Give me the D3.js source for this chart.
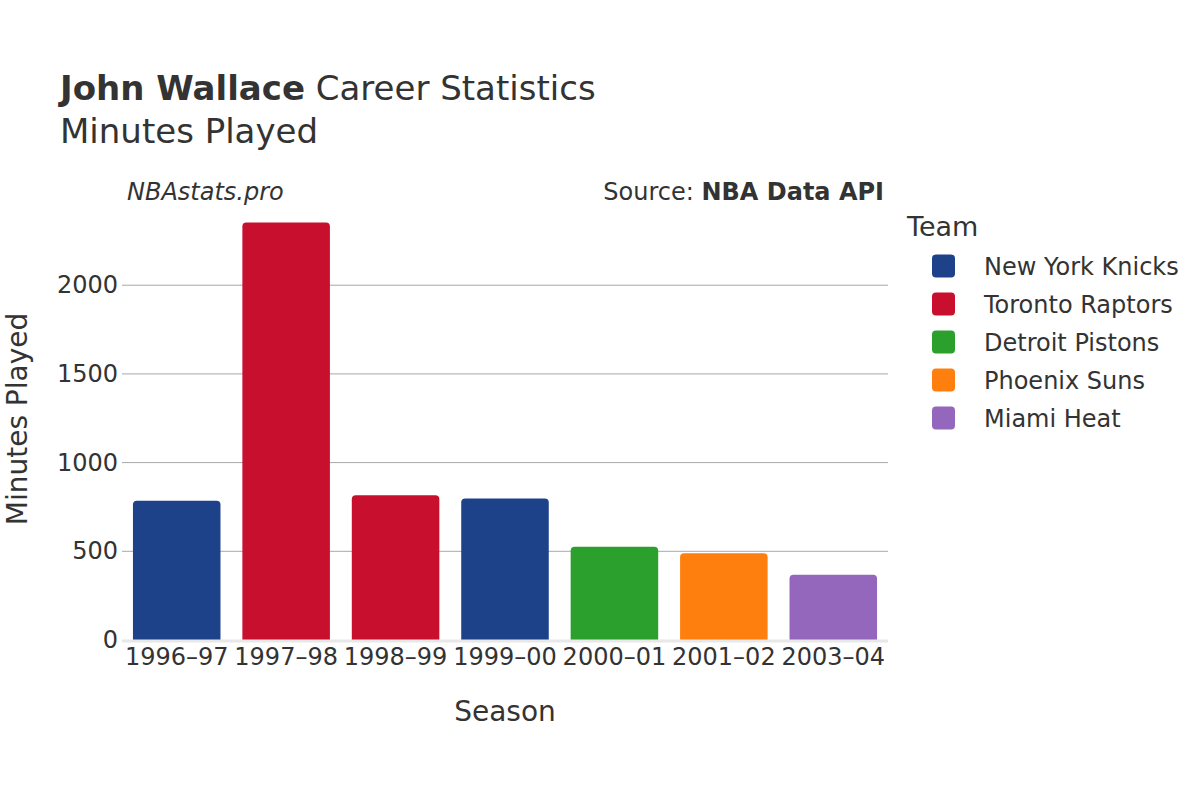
<!DOCTYPE html>
<html>
<head>
<meta charset="utf-8">
<script src="https://cdn.jsdelivr.net/npm/d3@7"></script>
<style>
  html, body { margin: 0; padding: 0; background: #fff; }
  svg { display: block; font-family: "DejaVu Sans", sans-serif; }
</style>
</head>
<body>
<svg id="chart" width="1200" height="800"></svg>
<script>
const seasons = ["1996–97", "1997–98", "1998–99", "1999–00", "2000–01", "2001–02", "2003–04"];
const minutes = [785, 2354, 816, 797, 525, 489, 368];
const seasonTeams = ["New York Knicks", "Toronto Raptors", "Toronto Raptors", "New York Knicks", "Detroit Pistons", "Phoenix Suns", "Miami Heat"];
const teams = ["New York Knicks", "Toronto Raptors", "Detroit Pistons", "Phoenix Suns", "Miami Heat"];
const teamColors = ["#1D428A", "#C8102E", "#2CA02C", "#FF7F0E", "#9467BD"];
const yTicks = [0, 500, 1000, 1500, 2000];

(function () {
const svg = d3.select("#chart");
const textColor = "#333333";
const pLeft = 122, pRight = 888, pTop = 210, pBottom = 640;

const x = d3.scaleBand().domain(seasons).range([pLeft, pRight]).paddingInner(0.2).paddingOuter(0.1);
const y = d3.scaleLinear().domain([0, 2424]).range([pBottom, pTop]);
const color = d3.scaleOrdinal().domain(teams).range(teamColors);

// Gridlines
svg.append("g").selectAll("line").data(yTicks.filter(d => d > 0)).join("line")
  .attr("x1", pLeft).attr("x2", pRight)
  .attr("y1", d => y(d)).attr("y2", d => y(d))
  .attr("stroke", "#a8a8a8").attr("stroke-width", 1);

// Y axis labels
const yAxis = d3.axisLeft(y).tickValues(yTicks).tickSize(0).tickPadding(4).tickFormat(d3.format("d"));
const gy = svg.append("g").attr("transform", `translate(${pLeft},0)`).call(yAxis);
gy.select(".domain").remove();
gy.selectAll("text").attr("font-size", 24).attr("fill", textColor).attr("font-family", "DejaVu Sans");

// Bars with rounded top corners
const r = 4;
function barPath(x0, y0, w, h) {
  const rr = Math.min(r, h, w / 2);
  return `M${x0},${y0 + h} V${y0 + rr} Q${x0},${y0} ${x0 + rr},${y0} H${x0 + w - rr} Q${x0 + w},${y0} ${x0 + w},${y0 + rr} V${y0 + h} Z`;
}
svg.append("g").selectAll("path").data(seasons).join("path")
  .attr("d", (s, i) => barPath(x(s), y(minutes[i]), x.bandwidth(), y(0) - y(minutes[i])))
  .attr("fill", (s, i) => color(seasonTeams[i]));

// Zero line
svg.append("line").attr("x1", pLeft).attr("x2", pRight)
  .attr("y1", y(0) + 1).attr("y2", y(0) + 1)
  .attr("stroke", "#e8e8e8").attr("stroke-width", 3);

// X axis labels
const xAxis = d3.axisBottom(x).tickSize(0).tickPadding(6);
const gx = svg.append("g").attr("transform", `translate(0,${pBottom + 2})`).call(xAxis);
gx.select(".domain").remove();
gx.selectAll("text").attr("font-size", 24).attr("fill", textColor).attr("font-family", "DejaVu Sans");

// Axis titles
svg.append("text").attr("x", (pLeft + pRight) / 2).attr("y", 721)
  .attr("text-anchor", "middle").attr("font-size", 28).attr("fill", textColor).text("Season");
svg.append("text").attr("transform", `translate(27,419) rotate(-90)`)
  .attr("text-anchor", "middle").attr("font-size", 28).attr("fill", textColor).text("Minutes Played");

// Title
const t = svg.append("text").attr("x", 60).attr("y", 100).attr("font-size", 34).attr("fill", textColor);
t.append("tspan").attr("font-weight", "bold").text("John Wallace");
t.append("tspan").text(" Career Statistics");
svg.append("text").attr("x", 60).attr("y", 143).attr("font-size", 34).attr("fill", textColor).text("Minutes Played");

// Watermark and source
svg.append("text").attr("x", 127).attr("y", 200).attr("font-size", 24).attr("font-style", "italic")
  .attr("fill", textColor).text("NBAstats.pro");
const src = svg.append("text").attr("x", 884).attr("y", 200).attr("font-size", 24)
  .attr("text-anchor", "end").attr("fill", textColor);
src.append("tspan").text("Source: ");
src.append("tspan").attr("font-weight", "bold").text("NBA Data API");

// Legend
svg.append("text").attr("x", 907).attr("y", 236).attr("font-size", 27).attr("fill", textColor).text("Team");
const lg = svg.append("g").selectAll("g").data(teams).join("g")
  .attr("transform", (d, i) => `translate(932,${266 + i * 38})`);
lg.append("rect").attr("x", 0).attr("y", -11.5).attr("width", 23).attr("height", 23)
  .attr("rx", 4).attr("fill", d => color(d));
lg.append("text").attr("x", 52).attr("y", 8.5).attr("font-size", 24).attr("fill", textColor).text(d => d);
})();
</script>
</body>
</html>
